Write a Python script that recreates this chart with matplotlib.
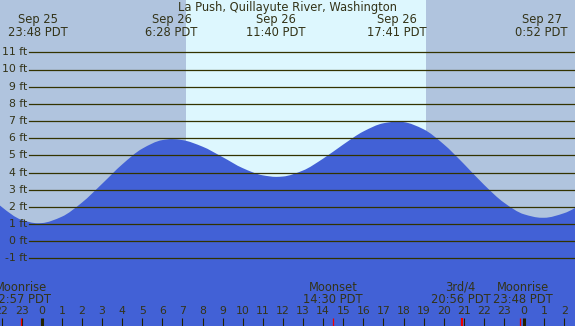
import matplotlib
matplotlib.use("Agg")
import matplotlib.pyplot as plt
from matplotlib.path import Path
from matplotlib.patches import PathPatch
from matplotlib.transforms import blended_transform_factory

# ---- data (hours relative to Sep 26 00:00 PDT) ----
tide_hours = [-3, -2, -1, -0.2, 0, 1, 2, 3, 4, 5, 6, 6.47, 7, 8, 9, 10, 11, 11.67,
              12, 13, 14, 15, 16, 17, 17.68, 18, 19, 20, 21, 22, 23, 24, 24.87, 25, 26, 27]
tide_ft = [3.17, 2.01, 1.25, 1.05, 1.06, 1.43, 2.25, 3.34, 4.47, 5.39, 5.89, 5.95, 5.89,
           5.51, 4.90, 4.26, 3.84, 3.75, 3.77, 4.12, 4.81, 5.63, 6.39, 6.87, 6.97, 6.94,
           6.52, 5.65, 4.51, 3.30, 2.25, 1.57, 1.37, 1.37, 1.64, 2.25]

extreme_hours = [-0.2, 6.467, 11.667, 17.683, 24.867]
extreme_date = ["Sep 25", "Sep 26", "Sep 26", "Sep 26", "Sep 27"]
extreme_time = ["23:48 PDT", "6:28 PDT", "11:40 PDT", "17:41 PDT", "0:52 PDT"]

sunrise_h = 7.16
sunset_h = 19.12

moon_hours = [-1.05, 14.5, 20.93, 23.8]
moon_name = ["Moonrise", "Moonset", "3rd/4", "Moonrise"]
moon_time = ["22:57 PDT", "14:30 PDT", "20:56 PDT", "23:48 PDT"]

hour_ticks = list(range(-2, 27))
hour_labels = [str(h % 24) for h in hour_ticks]

ft_levels = list(range(-1, 12))
ft_labels = [f"{v} ft" for v in ft_levels]

title = "La Push, Quillayute River, Washington"

# ---- styling ----
W, H = 575, 326
night_c = "#b0c4de"
day_c = "#ddf7fe"
water_c = "#4261d6"
line_c = "#333300"
text_c = "#333318"
fs = 8.3
fs_small = 7.8

px_per_h = 20.1
x0_px = 41.7   # pixel of hour 0
px_per_ft = 17.18
y0_px = 241.3  # pixel of 0 ft

xmin = (0 - x0_px) / px_per_h
xmax = (W - x0_px) / px_per_h
ymax = y0_px / px_per_ft
ymin = (y0_px - H) / px_per_ft

fig = plt.figure(figsize=(W / 100, H / 100), dpi=100)
ax = fig.add_axes([0, 0, 1, 1])
ax.set_xlim(xmin, xmax)
ax.set_ylim(ymin, ymax)
ax.axis("off")

def yf(py):
    return 1 - py / H

bt = blended_transform_factory(ax.transData, ax.transAxes)

# background day/night
ax.axvspan(xmin, sunrise_h, color=night_c, lw=0, zorder=0)
ax.axvspan(sunrise_h, sunset_h, color=day_c, lw=0, zorder=0)
ax.axvspan(sunset_h, xmax, color=night_c, lw=0, zorder=0)

# water: smooth monotone cubic Bezier path through the read points
n = len(tide_hours)
dx = [tide_hours[i + 1] - tide_hours[i] for i in range(n - 1)]
sl = [(tide_ft[i + 1] - tide_ft[i]) / dx[i] for i in range(n - 1)]
m = [0.0] * n
m[0], m[-1] = sl[0], sl[-1]
for i in range(1, n - 1):
    if sl[i - 1] * sl[i] <= 0:
        m[i] = 0.0
    else:
        w1 = 2 * dx[i] + dx[i - 1]
        w2 = dx[i] + 2 * dx[i - 1]
        m[i] = (w1 + w2) / (w1 / sl[i - 1] + w2 / sl[i])
verts = [(tide_hours[0], ymin - 1), (tide_hours[0], tide_ft[0])]
codes = [Path.MOVETO, Path.LINETO]
for i in range(n - 1):
    h = dx[i] / 3
    verts += [(tide_hours[i] + h, tide_ft[i] + h * m[i]),
              (tide_hours[i + 1] - h, tide_ft[i + 1] - h * m[i + 1]),
              (tide_hours[i + 1], tide_ft[i + 1])]
    codes += [Path.CURVE4] * 3
verts += [(tide_hours[-1], ymin - 1), (tide_hours[0], ymin - 1)]
codes += [Path.LINETO, Path.CLOSEPOLY]
ax.add_patch(PathPatch(Path(verts, codes), facecolor=water_c, lw=0, zorder=1))

# grid lines and labels
for v, lab in zip(ft_levels, ft_labels):
    ax.axhline(v, xmin=29.3 / W, xmax=1, color=line_c, lw=0.9, zorder=2)
    ax.text(27 / W, v, lab, transform=blended_transform_factory(ax.transAxes, ax.transData),
            ha="right", va="center", fontsize=fs_small, color=text_c, zorder=3)

# title and extreme labels
ax.text(0.5, yf(7.5), title, transform=ax.transAxes, ha="center", va="center",
        fontsize=fs, color=text_c)
for h, d, t in zip(extreme_hours, extreme_date, extreme_time):
    ax.text(h, yf(19.7), d, transform=bt, ha="center", va="center", fontsize=fs, color=text_c)
    ax.text(h, yf(32), t, transform=bt, ha="center", va="center", fontsize=fs, color=text_c)

# hour ticks
for h, lab in zip(hour_ticks, hour_labels):
    lw = 2.2 if h % 24 == 0 else 0.8
    ax.plot([h, h], [0, 8 / H], transform=bt, color="#222200", lw=lw, zorder=4,
            solid_capstyle="butt")
    ax.text(h, yf(311.5), lab, transform=bt, ha="center", va="center", fontsize=fs_small,
            color=text_c, zorder=4)

# moon events
nudge = [0, 0, -0.09, 0.15]
for h, nm, t, d in zip(moon_hours, moon_name, moon_time, nudge):
    lw = 1.6 if nm == "3rd/4" else 0.9
    ax.plot([h, h], [0, 8 / H], transform=bt, color="#ee0000", lw=lw, zorder=5,
            solid_capstyle="butt")
    ax.text(h + d, yf(287.3), nm, transform=bt, ha="center", va="center", fontsize=fs,
            color=text_c, zorder=4)
    ax.text(h + d, yf(299.3), t, transform=bt, ha="center", va="center", fontsize=fs,
            color=text_c, zorder=4)

fig.savefig("out.png", dpi=100)
